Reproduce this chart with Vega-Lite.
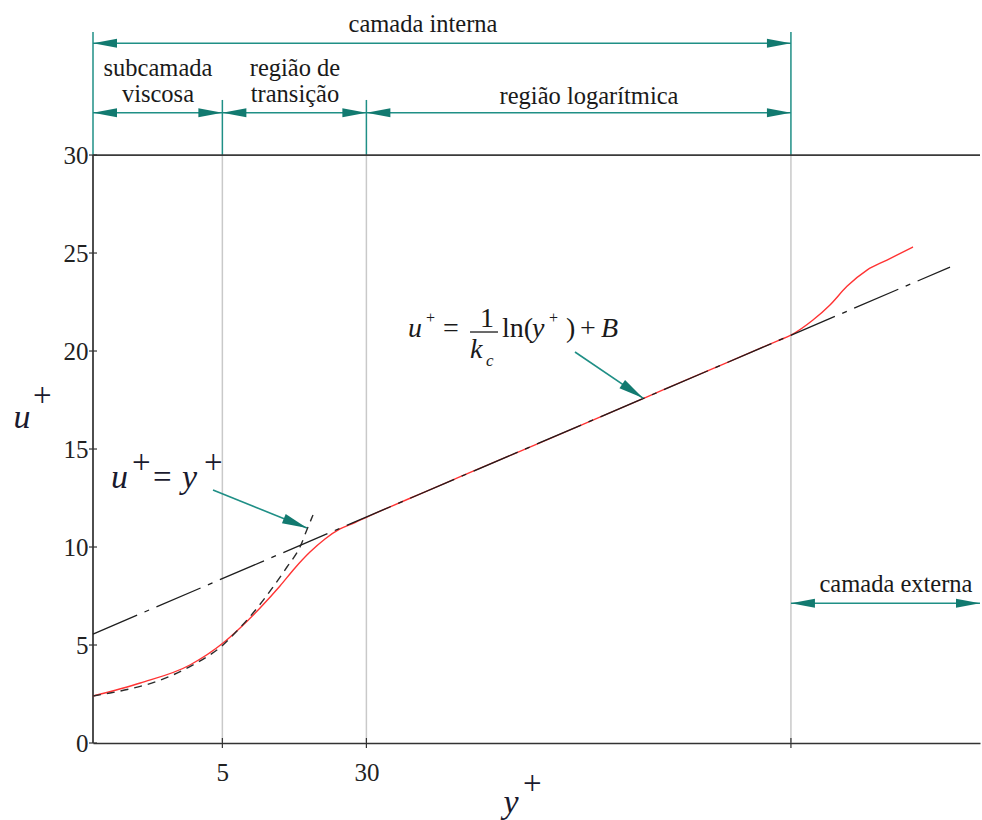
{
  "$schema": "https://vega.github.io/schema/vega-lite/v6.json",
  "width": 887,
  "height": 743,
  "autosize": {"type": "none"},
  "padding": {"left": 93, "top": 0, "right": 2, "bottom": 77},
  "background": "white",
  "config": {"view": {"stroke": null}, "font": "'Liberation Serif', 'DejaVu Serif', 'Times New Roman', serif"},
  "datasets": {
    "divisas": [
      {"yp": 5, "up": 0, "up2": 30},
      {"yp": 30, "up": 0, "up2": 30},
      {"yp": 5900, "up": 0, "up2": 30}
    ],
    "limites": [
      {"yp": 1, "up": 30, "up2": 36.28},
      {"yp": 5, "up": 30, "up2": 32.81},
      {"yp": 30, "up": 30, "up2": 32.81},
      {"yp": 5900, "up": 30, "up2": 36.28}
    ],
    "moldura": [
      {"yp": 1, "yp2": 62000, "up": 30, "up2": 30},
      {"yp": 1, "yp2": 1, "up": 0, "up2": 30}
    ],
    "marcas_y": [
      {"yp": 1, "up": 0}, {"yp": 1, "up": 5}, {"yp": 1, "up": 10}, {"yp": 1, "up": 15},
      {"yp": 1, "up": 20}, {"yp": 1, "up": 25}, {"yp": 1, "up": 30}
    ],
    "marcas_x": [
      {"yp": 5, "up": 0}, {"yp": 30, "up": 0}, {"yp": 5900, "up": 0}
    ],
    "perfil": [
      {"yp": 1, "up": 2.4},
      {"yp": 1.8, "up": 3.06},
      {"yp": 3.34, "up": 3.98},
      {"yp": 5.04, "up": 5.1},
      {"yp": 6.23, "up": 5.87},
      {"yp": 7.99, "up": 6.89},
      {"yp": 10.24, "up": 8.01},
      {"yp": 12.34, "up": 8.93},
      {"yp": 14.87, "up": 9.74},
      {"yp": 17.92, "up": 10.41},
      {"yp": 21.6, "up": 10.92},
      {"yp": 26.03, "up": 11.25},
      {"yp": 30.2, "up": 11.53},
      {"yp": 40, "up": 12.04},
      {"yp": 60, "up": 12.75},
      {"yp": 100, "up": 13.65},
      {"yp": 300, "up": 15.57},
      {"yp": 1000, "up": 17.69},
      {"yp": 2000, "up": 18.91},
      {"yp": 3500, "up": 19.89},
      {"yp": 5000, "up": 20.52},
      {"yp": 5900, "up": 20.81},
      {"yp": 7760, "up": 21.58},
      {"yp": 9590, "up": 22.35},
      {"yp": 11850, "up": 23.3},
      {"yp": 15200, "up": 24.13},
      {"yp": 19490, "up": 24.64},
      {"yp": 26930, "up": 25.31}
    ],
    "viscosa": [
      {"yp": 1, "up": 2.4},
      {"yp": 1.236, "up": 2.55},
      {"yp": 1.585, "up": 2.76},
      {"yp": 2.3, "up": 3.2},
      {"yp": 3.34, "up": 3.9},
      {"yp": 4.29, "up": 4.5},
      {"yp": 5.04, "up": 5.0},
      {"yp": 5.71, "up": 5.51},
      {"yp": 7.32, "up": 6.63},
      {"yp": 9.39, "up": 7.96},
      {"yp": 11.17, "up": 8.98},
      {"yp": 13.13, "up": 10.0},
      {"yp": 14.51, "up": 11.02},
      {"yp": 15.44, "up": 11.63}
    ],
    "lei_log": [
      {"yp": 1, "up": 5.56},
      {"yp": 42700, "up": 24.28}
    ],
    "faixas": [
      {"yp": 1, "yp2": 5900, "up": 35.7},
      {"yp": 1, "yp2": 5, "up": 32.16},
      {"yp": 5, "yp2": 30, "up": 32.16},
      {"yp": 30, "yp2": 5900, "up": 32.16},
      {"yp": 5900, "yp2": 62000, "up": 7.13}
    ],
    "rotulos": [
      {"yp": 60.66, "up": 36.28, "texto": "camada interna"},
      {"yp": 2.244, "up": 34.03, "texto": "subcamada"},
      {"yp": 2.244, "up": 32.7, "texto": "viscosa"},
      {"yp": 12.34, "up": 34.03, "texto": "região de"},
      {"yp": 12.34, "up": 32.7, "texto": "transição"},
      {"yp": 478.4, "up": 32.6, "texto": "região logarítmica"},
      {"yp": 21800, "up": 7.7, "texto": "camada externa"}
    ],
    "setas_diag": [
      {"nome": "log", "yp": 401.9, "up": 19.95, "yp2": 936.6, "up2": 17.6},
      {"nome": "linear", "yp": 4.449, "up": 12.91, "yp2": 14.33, "up2": 10.97}
    ],
    "fracao": [
      {"yp": 108.9, "yp2": 154.2, "up": 20.97}
    ],
    "formula_italico": [
      {"yp": 50.35, "up": 20.71, "texto": "u"},
      {"yp": 108.9, "up": 19.64, "texto": "k"},
      {"yp": 235.4, "up": 20.71, "texto": "y"},
      {"yp": 555.5, "up": 20.71, "texto": "B"}
    ],
    "formula_romano": [
      {"yp": 77.8, "up": 20.71, "texto": "="},
      {"yp": 123.3, "up": 21.22, "texto": "1"},
      {"yp": 162.1, "up": 20.71, "texto": "ln("},
      {"yp": 359.4, "up": 20.71, "texto": ")"},
      {"yp": 427.9, "up": 20.71, "texto": "+"}
    ],
    "formula_expoente": [
      {"yp": 62.97, "up": 21.43, "texto": "+"},
      {"yp": 290.9, "up": 21.43, "texto": "+"}
    ],
    "formula_indice": [
      {"yp": 132.8, "up": 19.23, "texto": "c"}
    ],
    "linear_italico": [
      {"yp": 1.251, "up": 13.01, "texto": "u"},
      {"yp": 3.026, "up": 13.01, "texto": "y"}
    ],
    "linear_romano": [
      {"yp": 1.624, "up": 13.78, "texto": "+"},
      {"yp": 2.11, "up": 13.01, "texto": "="},
      {"yp": 3.979, "up": 13.78, "texto": "+"}
    ],
    "expoentes_eixos": [
      {"yp": 0.474, "up": 17.22, "texto": "+"},
      {"yp": 210.5, "up": -2.58, "texto": "+"}
    ]
  },
  "layer": [
    {
      "data": {"name": "divisas"},
      "mark": {"type": "rule", "color": "#c9c9c9", "strokeWidth": 1.5},
      "encoding": {
        "x": {
          "field": "yp", "type": "quantitative",
          "scale": {"type": "log", "domain": [1, 62000], "nice": false},
          "axis": {
            "values": [5, 30, 5900],
            "format": "d",
            "labelExpr": "datum.value > 1000 ? '' : datum.label",
            "grid": false,
            "ticks": false,
            "domainColor": "#333333", "domainWidth": 1.5,
            "labelFontSize": 25, "labelColor": "#222222",
            "labelPadding": 17,
            "title": "y",
            "titleFontStyle": "italic", "titleFontWeight": "normal",
            "titleFontSize": 34, "titleColor": "#1a1a2e",
            "titleAngle": 0, "titleAlign": "left", "titleBaseline": "alphabetic",
            "titleX": 410, "titleY": 69
          }
        },
        "y": {
          "field": "up", "type": "quantitative",
          "scale": {"domain": [0, 37.91], "nice": false, "zero": false},
          "axis": {
            "values": [0, 5, 10, 15, 20, 25, 30],
            "format": "d",
            "grid": false,
            "domain": false,
            "ticks": false,
            "labelFontSize": 25, "labelColor": "#222222",
            "labelPadding": 5,
            "title": "u",
            "titleFontStyle": "italic", "titleFontWeight": "normal",
            "titleFontSize": 34, "titleColor": "#1a1a2e",
            "titleAngle": 0, "titleAlign": "left", "titleBaseline": "alphabetic",
            "titleX": -80, "titleY": 427
          }
        },
        "y2": {"field": "up2"}
      }
    },
    {
      "data": {"name": "limites"},
      "mark": {"type": "rule", "color": "#1f8f86", "strokeWidth": 1.5},
      "encoding": {
        "x": {"field": "yp", "type": "quantitative"},
        "y": {"field": "up", "type": "quantitative"},
        "y2": {"field": "up2"}
      }
    },
    {
      "data": {"name": "moldura"},
      "mark": {"type": "rule", "color": "#3a3a3a", "strokeWidth": 1.8},
      "encoding": {
        "x": {"field": "yp", "type": "quantitative"},
        "x2": {"field": "yp2"},
        "y": {"field": "up", "type": "quantitative"},
        "y2": {"field": "up2"}
      }
    },
    {
      "data": {"name": "marcas_y"},
      "mark": {"type": "tick", "orient": "horizontal", "size": 8, "thickness": 1.2, "color": "#333333", "opacity": 1},
      "encoding": {
        "x": {"field": "yp", "type": "quantitative"},
        "y": {"field": "up", "type": "quantitative"}
      }
    },
    {
      "data": {"name": "marcas_x"},
      "mark": {"type": "tick", "orient": "vertical", "size": 10, "thickness": 1.2, "color": "#333333", "opacity": 1},
      "encoding": {
        "x": {"field": "yp", "type": "quantitative"},
        "y": {"field": "up", "type": "quantitative"}
      }
    },
    {
      "data": {"name": "perfil"},
      "mark": {"type": "line", "color": "#ff3333", "strokeWidth": 1.4, "interpolate": "monotone"},
      "encoding": {
        "x": {"field": "yp", "type": "quantitative"},
        "y": {"field": "up", "type": "quantitative"}
      }
    },
    {
      "data": {"name": "viscosa"},
      "mark": {"type": "line", "color": "#2b2b2b", "strokeWidth": 1.4, "strokeDash": [8, 6], "interpolate": "monotone"},
      "encoding": {
        "x": {"field": "yp", "type": "quantitative"},
        "y": {"field": "up", "type": "quantitative"}
      }
    },
    {
      "data": {"name": "lei_log"},
      "mark": {"type": "line", "color": "#1e1e1e", "strokeWidth": 1.3, "strokeDash": [48, 8, 5, 8]},
      "encoding": {
        "x": {"field": "yp", "type": "quantitative"},
        "y": {"field": "up", "type": "quantitative"}
      }
    },
    {
      "data": {"name": "faixas"},
      "mark": {"type": "rule", "color": "#1f8f86", "strokeWidth": 1.5},
      "encoding": {
        "x": {"field": "yp", "type": "quantitative"},
        "x2": {"field": "yp2"},
        "y": {"field": "up", "type": "quantitative"}
      }
    },
    {
      "data": {"name": "faixas"},
      "mark": {"type": "point", "shape": "M0,0L2,-0.38L2,0.38Z", "size": 576, "filled": true, "opacity": 1, "color": "#127a70", "strokeWidth": 0},
      "encoding": {
        "x": {"field": "yp", "type": "quantitative"},
        "y": {"field": "up", "type": "quantitative"}
      }
    },
    {
      "data": {"name": "faixas"},
      "mark": {"type": "point", "shape": "M0,0L-2,-0.38L-2,0.38Z", "size": 576, "filled": true, "opacity": 1, "color": "#127a70", "strokeWidth": 0},
      "encoding": {
        "x": {"field": "yp2", "type": "quantitative"},
        "y": {"field": "up", "type": "quantitative"}
      }
    },
    {
      "data": {"name": "rotulos"},
      "mark": {"type": "text", "fontSize": 24.5, "color": "#1a1a1a", "align": "center", "baseline": "alphabetic"},
      "encoding": {
        "x": {"field": "yp", "type": "quantitative"},
        "y": {"field": "up", "type": "quantitative"},
        "text": {"field": "texto"}
      }
    },
    {
      "data": {"name": "setas_diag"},
      "mark": {"type": "rule", "color": "#1f8f86", "strokeWidth": 1.6},
      "encoding": {
        "x": {"field": "yp", "type": "quantitative"},
        "x2": {"field": "yp2"},
        "y": {"field": "up", "type": "quantitative"},
        "y2": {"field": "up2"}
      }
    },
    {
      "data": {"name": "setas_diag"},
      "transform": [{"filter": "datum.nome == 'log'"}],
      "mark": {"type": "point", "shape": "M0,0L-2,-0.4L-2,0.4Z", "size": 625, "angle": 34, "filled": true, "opacity": 1, "color": "#127a70", "strokeWidth": 0},
      "encoding": {
        "x": {"field": "yp2", "type": "quantitative"},
        "y": {"field": "up2", "type": "quantitative"}
      }
    },
    {
      "data": {"name": "setas_diag"},
      "transform": [{"filter": "datum.nome == 'linear'"}],
      "mark": {"type": "point", "shape": "M0,0L-2,-0.4L-2,0.4Z", "size": 625, "angle": 22, "filled": true, "opacity": 1, "color": "#127a70", "strokeWidth": 0},
      "encoding": {
        "x": {"field": "yp2", "type": "quantitative"},
        "y": {"field": "up2", "type": "quantitative"}
      }
    },
    {
      "data": {"name": "fracao"},
      "mark": {"type": "rule", "color": "#1a1a1a", "strokeWidth": 1.3},
      "encoding": {
        "x": {"field": "yp", "type": "quantitative"},
        "x2": {"field": "yp2"},
        "y": {"field": "up", "type": "quantitative"}
      }
    },
    {
      "data": {"name": "formula_italico"},
      "mark": {"type": "text", "fontStyle": "italic", "fontSize": 28, "color": "#1a1a1a", "align": "left", "baseline": "alphabetic"},
      "encoding": {
        "x": {"field": "yp", "type": "quantitative"},
        "y": {"field": "up", "type": "quantitative"},
        "text": {"field": "texto"}
      }
    },
    {
      "data": {"name": "formula_romano"},
      "mark": {"type": "text", "fontSize": 28, "color": "#1a1a1a", "align": "left", "baseline": "alphabetic"},
      "encoding": {
        "x": {"field": "yp", "type": "quantitative"},
        "y": {"field": "up", "type": "quantitative"},
        "text": {"field": "texto"}
      }
    },
    {
      "data": {"name": "formula_expoente"},
      "mark": {"type": "text", "fontSize": 16, "color": "#1a1a1a", "align": "left", "baseline": "alphabetic"},
      "encoding": {
        "x": {"field": "yp", "type": "quantitative"},
        "y": {"field": "up", "type": "quantitative"},
        "text": {"field": "texto"}
      }
    },
    {
      "data": {"name": "formula_indice"},
      "mark": {"type": "text", "fontStyle": "italic", "fontSize": 17, "color": "#1a1a1a", "align": "left", "baseline": "alphabetic"},
      "encoding": {
        "x": {"field": "yp", "type": "quantitative"},
        "y": {"field": "up", "type": "quantitative"},
        "text": {"field": "texto"}
      }
    },
    {
      "data": {"name": "linear_italico"},
      "mark": {"type": "text", "fontStyle": "italic", "fontSize": 34, "color": "#1a1a2e", "align": "left", "baseline": "alphabetic"},
      "encoding": {
        "x": {"field": "yp", "type": "quantitative"},
        "y": {"field": "up", "type": "quantitative"},
        "text": {"field": "texto"}
      }
    },
    {
      "data": {"name": "linear_romano"},
      "mark": {"type": "text", "fontSize": 33, "color": "#1a1a2e", "align": "left", "baseline": "alphabetic"},
      "encoding": {
        "x": {"field": "yp", "type": "quantitative"},
        "y": {"field": "up", "type": "quantitative"},
        "text": {"field": "texto"}
      }
    },
    {
      "data": {"name": "expoentes_eixos"},
      "mark": {"type": "text", "fontSize": 33, "color": "#1a1a2e", "align": "left", "baseline": "alphabetic"},
      "encoding": {
        "x": {"field": "yp", "type": "quantitative"},
        "y": {"field": "up", "type": "quantitative"},
        "text": {"field": "texto"}
      }
    }
  ]
}
